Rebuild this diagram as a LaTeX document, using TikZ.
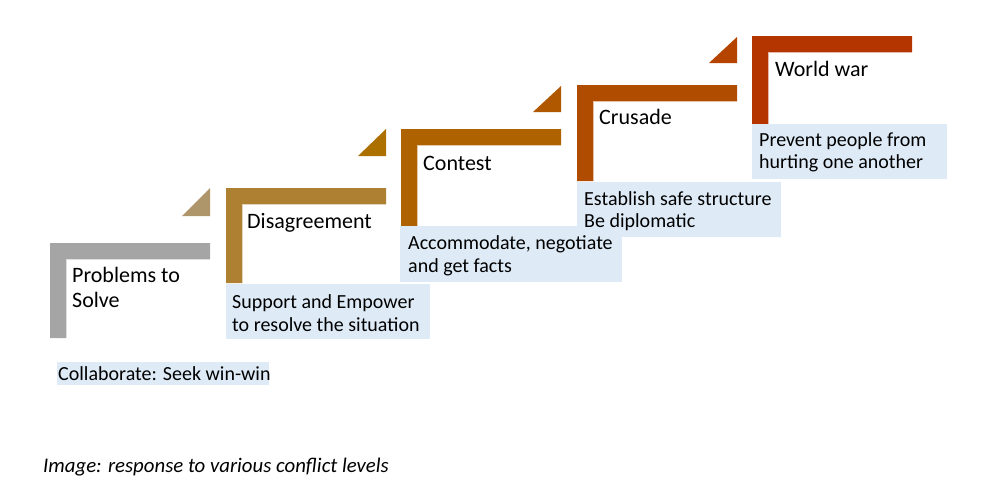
\documentclass[tikz,border=0pt]{standalone}
\usepackage{fontspec}
\setmainfont{Carlito}
\definecolor{boxblue}{HTML}{DEEBF7}
\definecolor{cA}{HTML}{A5A5A5}
\definecolor{cB}{HTML}{AE8032}
\definecolor{cC}{HTML}{AE6200}
\definecolor{cD}{HTML}{B04C00}
\definecolor{cE}{HTML}{B43500}
\definecolor{tA}{HTML}{AF956A}
\definecolor{tB}{HTML}{AC7000}
\definecolor{tC}{HTML}{B05800}
\definecolor{tD}{HTML}{B44400}
\newcommand\Lstep[4]{%
  \fill[#4] (#1,#2) -- ++(160,0) -- ++(0,16) -- (#1+16,#2+16) -- (#1+16,#3) -- (#1,#3) -- cycle;
  \draw[#4!35!white, line width=1pt] (#1+16.5,#3) -- (#1+16.5,#2+16.5) -- (#1+160,#2+16.5);
}
\newcommand\Ltri[4]{%
  \fill[#4] (#1,#2) -- (#1,#3) -- (#1-28,#3) -- cycle;
}
\begin{document}
\begin{tikzpicture}[x=1pt,y=-1pt,
  lbl/.style={anchor=base west, inner sep=0pt, font=\fontsize{20}{24}\selectfont},
  ttl/.style={anchor=base west, inner sep=0pt, font=\fontsize{22}{25}\selectfont},
  captxt/.style={anchor=base west, inner sep=0pt, font=\fontsize{20.8}{24}\selectfont\itshape},
  bluebox/.style={fill=boxblue}]
\useasboundingbox (0,0) rectangle (1003,501);
% triangles
\Ltri{210}{188}{216}{tA}
\Ltri{386}{129}{156}{tB}
\Ltri{561}{86}{112}{tC}
\Ltri{737}{37}{63}{tD}
% steps
\Lstep{50}{243}{338}{cA}
\Lstep{226}{188}{283}{cB}
\Lstep{401}{129}{226}{cC}
\Lstep{577}{85}{181}{cD}
\Lstep{752}{36}{124}{cE}
% blue boxes
\fill[bluebox] (57,362) rectangle (269,385);
\fill[bluebox] (226,284) rectangle (430,339);
\fill[bluebox] (400,226) rectangle (622,282);
\fill[bluebox] (577,182) rectangle (781,237);
\fill[bluebox] (752,124) rectangle (947,179);
% titles
\node[ttl] (t1a) at (72,282) {Problems to};
\node[ttl] (t1b) at (72,307) {Solve};
\node[ttl] (t2) at (247,228) {Disagreement};
\node[ttl] (t3) at (423,170) {Contest};
\node[ttl] (t4) at (599,124) {Crusade};
\node[ttl] (t5) at (775,76) {World war};
% responses
\node[lbl] (r1) at (58,380) {Collaborate: Seek win-win};
\node[lbl] (r2a) at (232,308) {Support and Empower};
\node[lbl] (r2b) at (232,331) {to resolve the situation};
\node[lbl] (r3a) at (408,249) {Accommodate, negotiate};
\node[lbl] (r3b) at (408,272) {and get facts};
\node[lbl] (r4a) at (584,205) {Establish safe structure};
\node[lbl] (r4b) at (584,227) {Be diplomatic};
\node[lbl] (r5a) at (759,146) {Prevent people from};
\node[lbl] (r5b) at (759,168) {hurting one another};
% caption
\node[captxt] (caption) at (43,472) {Image: response to various conflict levels};
\end{tikzpicture}
\end{document}
